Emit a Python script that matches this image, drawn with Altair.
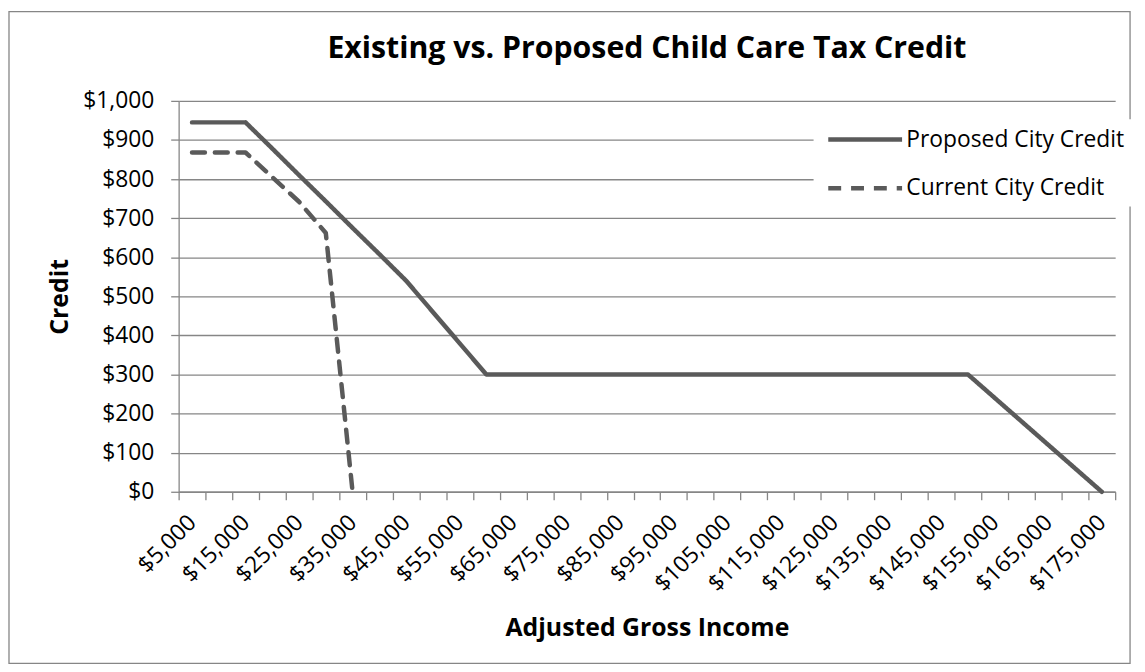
import altair as alt
import pandas as pd

# ---- data ----
income = [5000, 10000, 15000, 20000, 25000, 30000, 35000, 40000, 45000, 50000,
          55000, 60000, 65000, 70000, 75000, 80000, 85000, 90000, 95000, 100000,
          105000, 110000, 115000, 120000, 125000, 130000, 135000, 140000, 145000,
          150000, 155000, 160000, 165000, 170000, 175000]
proposed = [945, 945, 945, 878, 810, 743, 675, 608, 540, 460,
            380, 300, 300, 300, 300, 300, 300, 300, 300, 300,
            300, 300, 300, 300, 300, 300, 300, 300, 300,
            300, 240, 180, 120, 60, 0]
current_income = [5000, 10000, 15000, 20000, 25000, 30000, 35000]
current = [868, 868, 868, 805, 742, 662, 0]

series_names = ["Proposed City Credit", "Current City Credit"]
# category boundaries (where Excel draws the x tick marks)
x_tick_values = [2500, 7500, 12500, 17500, 22500, 27500, 32500, 37500, 42500,
                 47500, 52500, 57500, 62500, 67500, 72500, 77500, 82500, 87500,
                 92500, 97500, 102500, 107500, 112500, 117500, 122500, 127500,
                 132500, 137500, 142500, 147500, 152500, 157500, 162500, 167500,
                 172500, 177500]
y_tick_values = [0, 100, 200, 300, 400, 500, 600, 700, 800, 900, 1000]

rows = []
for i, v in zip(income, proposed):
    rows.append({"income": i, "credit": v, "series": series_names[0]})
for i, v in zip(current_income, current):
    rows.append({"income": i, "credit": v, "series": series_names[1]})
df = pd.DataFrame(rows)

W, H = 944, 394
GRAY = "#868686"
LINE = "#5a5a5a"
FONT = "Open Sans"

x_axis = alt.Axis(
    values=x_tick_values,
    labelExpr="((datum.value - 2500) % 10000 == 0 && datum.value < 177000) ? format(datum.value + 2500, '$,.0f') : ''",
    labelOffset=13.49, labelAngle=315, labelAlign="right", labelBaseline="middle",
    labelPadding=19, labelOverlap=False, labelFlush=False,
    labelFont=FONT, labelFontSize=23, labelColor="black",
    tickSize=8, tickColor=GRAY, tickWidth=1.3,
    domainColor=GRAY, domainWidth=1.3, grid=False,
    titleFont=FONT, titleFontSize=25, titleFontWeight="bold", titleColor="black",
    titleX=472, titleY=145, titleBaseline="alphabetic", titleAlign="center",
)
y_axis = alt.Axis(
    values=y_tick_values, format="$,.0f",
    labelFont=FONT, labelFontSize=23, labelColor="black", labelPadding=17,
    tickSize=8, tickColor=GRAY, tickWidth=1.3,
    domainColor=GRAY, domainWidth=1.3,
    grid=True, gridColor=GRAY, gridWidth=1.3,
    titleFont=FONT, titleFontSize=25, titleFontWeight="bold", titleColor="black",
    titleX=-112, titleY=H / 2, titleBaseline="alphabetic", titleAngle=270, titleAlign="center",
)

lines = alt.Chart(df).mark_line(
    strokeWidth=4.5, strokeCap="round", strokeJoin="round", color=LINE
).encode(
    x=alt.X("income:Q", scale=alt.Scale(domain=[2500, 177500], nice=False, zero=False),
            axis=x_axis, title="Adjusted Gross Income"),
    y=alt.Y("credit:Q", scale=alt.Scale(domain=[0, 1000], nice=False),
            axis=y_axis, title="Credit"),
    strokeDash=alt.StrokeDash(
        "series:N",
        scale=alt.Scale(domain=series_names, range=[[1, 0], [13, 10]]),
        title=None,
        legend=alt.Legend(
            orient="none", legendX=640, legendY=18.5, direction="vertical",
            symbolType="M-3.1,0H3.1", symbolSize=576, symbolStrokeWidth=4.5,
            symbolStrokeColor=LINE, symbolFillColor="transparent",
            symbolOffset=31.5,
            labelFont=FONT, labelFontSize=23, labelColor="black", labelOffset=27,
            labelLimit=400, rowPadding=22, padding=6, fillColor="white",
        ),
    ),
    order="income:Q",
)

frame = alt.Chart(pd.DataFrame({"k": [0]})).mark_rect(
    fill="transparent", stroke=GRAY, strokeWidth=1.3
).encode(
    x=alt.value(-171), x2=alt.value(959), y=alt.value(-90), y2=alt.value(567)
)

chart = alt.layer(frame, lines).properties(
    width=W, height=H, padding=0, background="white",
    title=alt.TitleParams(
        "Existing vs. Proposed Child Care Tax Credit",
        font=FONT, fontSize=30.5, fontWeight="bold", color="black",
        anchor="middle", frame="group", offset=40, baseline="alphabetic", dy=118,
    ),
).configure_view(stroke="transparent")

chart.save("out.html", embed_options={"renderer": "svg", "actions": False})
